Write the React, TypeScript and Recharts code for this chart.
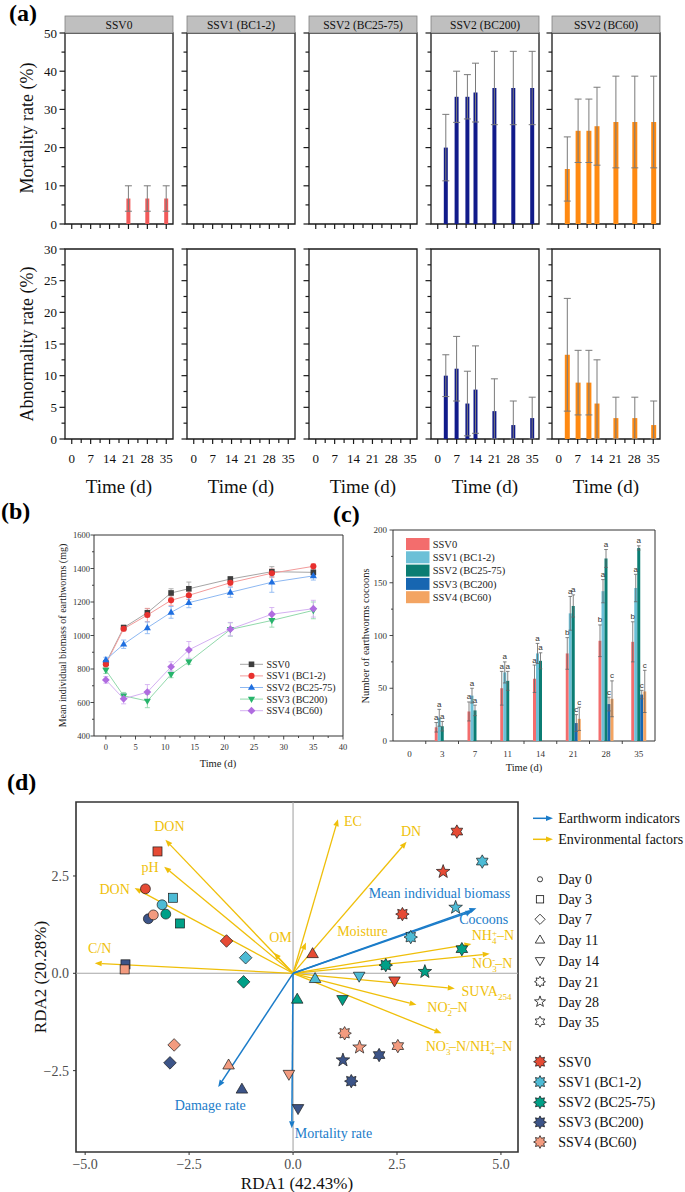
import React from 'react';
import {
  BarChart, Bar, LineChart, Line, ScatterChart, Scatter, XAxis, YAxis,
  ErrorBar, ReferenceArea, ReferenceLine, LabelList,
} from 'recharts';

const SERIF = '"Liberation Serif","Times New Roman",Times,serif';
const SANS = '"Liberation Sans",Arial,sans-serif';

/* ===================== (a) data ===================== */
const A_DAYS = [0, 3, 7, 11, 14, 21, 28, 35];
const A_X_TICKS = [0, 3.5, 7, 10.5, 14, 17.5, 21, 24.5, 28, 31.5, 35];
const A_TITLES = ['SSV0', 'SSV1 (BC1-2)', 'SSV2 (BC25-75)', 'SSV2 (BC200)', 'SSV2 (BC60)'];

const MORT_SSV0 = [0, 0, 0, 0, 0, 6.67, 6.67, 6.67];
const MORT_SSV0_SD = [0, 0, 0, 0, 0, 3.33, 3.33, 3.33];
const MORT_BC12 = [0, 0, 0, 0, 0, 0, 0, 0];
const MORT_BC2575 = [0, 0, 0, 0, 0, 0, 0, 0];
const MORT_BC200 = [0, 20.0, 33.3, 33.3, 34.4, 35.6, 35.6, 35.6];
const MORT_BC200_SD = [0, 8.7, 6.7, 5.8, 7.7, 9.6, 9.6, 9.6];
const MORT_BC60 = [0, 14.4, 24.4, 24.4, 25.6, 26.7, 26.7, 26.7];
const MORT_BC60_SD = [0, 8.4, 8.3, 8.3, 10.2, 12.0, 12.0, 12.0];

const ABN_SSV0 = [0, 0, 0, 0, 0, 0, 0, 0];
const ABN_BC12 = [0, 0, 0, 0, 0, 0, 0, 0];
const ABN_BC2575 = [0, 0, 0, 0, 0, 0, 0, 0];
const ABN_BC200 = [0, 10.0, 11.1, 5.6, 7.8, 4.4, 2.2, 3.3];
const ABN_BC200_SD = [0, 3.3, 5.1, 5.1, 6.9, 5.1, 3.8, 3.3];
const ABN_BC60 = [0, 13.3, 8.9, 8.9, 5.6, 3.3, 3.3, 2.2];
const ABN_BC60_SD = [0, 8.9, 5.1, 5.1, 6.9, 3.3, 3.3, 3.8];
const ZERO_SD = [0, 0, 0, 0, 0, 0, 0, 0];

const MORT_SETS = [MORT_SSV0, MORT_BC12, MORT_BC2575, MORT_BC200, MORT_BC60];
const MORT_SD_SETS = [MORT_SSV0_SD, ZERO_SD, ZERO_SD, MORT_BC200_SD, MORT_BC60_SD];
const ABN_SETS = [ABN_SSV0, ABN_BC12, ABN_BC2575, ABN_BC200, ABN_BC60];
const ABN_SD_SETS = [ZERO_SD, ZERO_SD, ZERO_SD, ABN_BC200_SD, ABN_BC60_SD];

/* ===================== (b) data ===================== */
const B_DAYS = [0, 3, 7, 11, 14, 21, 28, 35];
const B_SSV0 = [835, 1047, 1136, 1254, 1279, 1337, 1381, 1377];
const B_SSV1 = [829, 1040, 1122, 1210, 1240, 1315, 1372, 1413];
const B_SSV2 = [855, 948, 1046, 1138, 1196, 1258, 1318, 1356];
const B_SSV3 = [793, 640, 609, 768, 843, 1036, 1090, 1150];
const B_SSV4 = [735, 622, 662, 813, 914, 1038, 1127, 1160];
const B_SSV0_SD = [15, 15, 25, 25, 40, 15, 30, 20];
const B_SSV1_SD = [20, 15, 40, 30, 25, 20, 25, 15];
const B_SSV2_SD = [15, 25, 35, 35, 30, 30, 60, 25];
const B_SSV3_SD = [20, 20, 40, 20, 15, 40, 40, 50];
const B_SSV4_SD = [20, 30, 45, 30, 50, 40, 40, 50];
const B_NAMES = ['SSV0', 'SSV1 (BC1-2)', 'SSV2 (BC25-75)', 'SSV3 (BC200)', 'SSV4 (BC60)'];
const B_SETS = [B_SSV0, B_SSV1, B_SSV2, B_SSV3, B_SSV4];
const B_SD_SETS = [B_SSV0_SD, B_SSV1_SD, B_SSV2_SD, B_SSV3_SD, B_SSV4_SD];

/* ===================== (c) data ===================== */
const C_DAYS = ['0', '3', '7', '11', '14', '21', '28', '35'];
const C_SSV0 = [0, 13, 28, 50, 59, 83, 95, 94];
const C_SSV1 = [0, 22, 43, 65, 83, 121, 142, 145];
const C_SSV2 = [0, 14, 29, 57, 76, 128, 173, 183];
const C_SSV3 = [0, 0, 0, 0, 0, 17, 35, 44];
const C_SSV4 = [0, 0, 0, 0, 0, 21, 40, 47];
const C_SSV0_SD = [0, 4.5, 9, 16, 13, 15, 15, 19];
const C_SSV1_SD = [0, 8, 7, 10, 9.5, 16, 11, 13];
const C_SSV2_SD = [0, 4.5, 5, 9, 7.6, 10.5, 8.5, 2];
const C_SSV3_SD = [0, 0, 0, 0, 0, 8, 6.5, 4];
const C_SSV4_SD = [0, 0, 0, 0, 0, 11, 17, 20];
const C_SSV0_SIG = ['', 'a', 'a', 'a', 'a', 'b', 'b', 'b'];
const C_SSV1_SIG = ['', 'a', 'a', 'a', 'a', 'a', 'a', 'a'];
const C_SSV2_SIG = ['', 'a', 'a', 'a', 'a', 'a', 'a', 'a'];
const C_SSV3_SIG = ['', '', '', '', '', 'c', 'c', 'c'];
const C_SSV4_SIG = ['', '', '', '', '', 'c', 'c', 'c'];
const C_NAMES = ['SSV0', 'SSV1 (BC1-2)', 'SSV2 (BC25-75)', 'SSV3 (BC200)', 'SSV4 (BC60)'];
const C_SETS = [C_SSV0, C_SSV1, C_SSV2, C_SSV3, C_SSV4];
const C_SD_SETS = [C_SSV0_SD, C_SSV1_SD, C_SSV2_SD, C_SSV3_SD, C_SSV4_SD];
const C_SIG_SETS = [C_SSV0_SIG, C_SSV1_SIG, C_SSV2_SIG, C_SSV3_SIG, C_SSV4_SIG];

/* ===================== (d) data ===================== */
const D_DAY_LABELS = ['Day 0', 'Day 3', 'Day 7', 'Day 11', 'Day 14', 'Day 21', 'Day 28', 'Day 35'];
const D_GROUP_NAMES = ['SSV0', 'SSV1 (BC1-2)', 'SSV2 (BC25-75)', 'SSV3 (BC200)', 'SSV4 (BC60)'];
const D_SSV0_RDA1 = [-3.55, -3.26, -1.60, 0.47, 2.44, 2.63, 3.61, 3.94];
const D_SSV0_RDA2 = [2.17, 3.13, 0.83, 0.50, -0.19, 1.52, 2.61, 3.64];
const D_SSV1_RDA1 = [-3.15, -2.89, -1.14, 0.53, 1.59, 2.83, 3.91, 4.55];
const D_SSV1_RDA2 = [1.76, 1.94, 0.40, -0.14, -0.07, 0.93, 1.69, 2.87];
const D_SSV2_RDA1 = [-3.06, -2.72, -1.19, 0.10, 1.19, 2.23, 3.17, 4.06];
const D_SSV2_RDA2 = [1.52, 1.28, -0.22, -0.67, -0.67, 0.21, 0.04, 0.62];
const D_SSV3_RDA1 = [-3.48, -4.03, -2.96, -1.23, 0.12, 1.40, 1.20, 2.07];
const D_SSV3_RDA2 = [1.40, 0.23, -2.30, -2.98, -3.47, -2.77, -2.23, -2.10];
const D_SSV4_RDA1 = [-3.36, -4.05, -2.86, -1.55, -0.10, 1.24, 1.60, 2.52];
const D_SSV4_RDA2 = [1.50, 0.10, -1.84, -2.36, -2.59, -1.54, -1.90, -1.87];
const D_RDA1_SETS = [D_SSV0_RDA1, D_SSV1_RDA1, D_SSV2_RDA1, D_SSV3_RDA1, D_SSV4_RDA1];
const D_RDA2_SETS = [D_SSV0_RDA2, D_SSV1_RDA2, D_SSV2_RDA2, D_SSV3_RDA2, D_SSV4_RDA2];

const ENV_IDS = ['DON1', 'pH', 'DON2', 'CN', 'OM', 'Moisture', 'EC', 'DN', 'NH4', 'NO3', 'SUVA', 'NO2', 'RATIO'];
const ENV_RDA1 = [-3.07, -3.10, -3.81, -4.77, -0.46, 0.31, 1.08, 2.73, 4.29, 4.73, 3.89, 2.97, 3.57];
const ENV_RDA2 = [3.43, 2.74, 2.19, 0.26, 0.53, 0.79, 3.96, 3.38, 0.75, 0.50, -0.39, -0.81, -1.54];
const WORM_IDS = ['BIOMASS', 'COCOONS', 'DAMAGE', 'MORT'];
const WORM_RDA1 = [4.41, 4.32, -1.80, -0.03];
const WORM_RDA2 = [1.67, 1.60, -2.92, -3.98];

/* ===================== styles / layout ===================== */
const AX = 1; // axis band thickness (must be > 0 for recharts to draw ticks)
const A_COL_LEFT = [65, 187, 309, 431, 552];
const A_PW = 108;
const A_ML = 46, A_MR = 6, A_MT = 12, A_MB = 60;
const A_ROWS = [
  { top: 33, h: 191, yMax: 50, minor: 5, major: 10 },
  { top: 249, h: 190, yMax: 30, minor: 2.5, major: 5 },
];
const A_COLORS = ['#f25a5a', '#f25a5a', '#f25a5a', '#111b8a', '#ff8a12'];
const A_BAR = [4, 4, 4, 4, 5];

const B_LEFT = 94, B_TOP = 535, B_PW = 249, B_PH = 201;
const B_ML = 46, B_MR = 6, B_MT = 8, B_MB = 40;
const B_STYLE = [
  { kind: 'square', mark: '#3d3d3d', line: '#a6a6a6' },
  { kind: 'circle', mark: '#e8302e', line: '#f29b9b' },
  { kind: 'triUp', mark: '#1f6fe0', line: '#8db8f2' },
  { kind: 'triDown', mark: '#27b46b', line: '#91d9ab' },
  { kind: 'diamond', mark: '#b06ce0', line: '#d4b0f2' },
];

const C_LEFT = 393, C_TOP = 530, C_PW = 262, C_PH = 211;
const C_ML = 45, C_MR = 6, C_MT = 8, C_MB = 36;
const C_COLORS = ['#f36d6d', '#6cc0d7', '#0b7d73', '#1766b1', '#f3a462'];

const D_LEFT = 76, D_TOP = 802, D_PW = 442, D_PH = 350;
const D_ML = 50, D_MR = 8, D_MT = 8, D_MB = 40;
const D_XDOM = [-5.22, 5.41];
const D_YDOM = [-4.59, 4.40];
const D_COLORS = ['#E64B35', '#4DBBD5', '#00A087', '#3C5488', '#F39B7F'];
const DAY_KINDS = ['circle', 'square', 'diamond', 'triUp', 'triDown', 'star8', 'star5', 'star6'];
const BLUE = '#1b7cc9';
const YELLOW = '#efbf0a';

/* ===================== symbols ===================== */
function starPts(cx: number, cy: number, n: number, ro: number, ri: number) {
  const pts: string[] = [];
  for (let i = 0; i < 2 * n; i++) {
    const r = i % 2 === 0 ? ro : ri;
    const a = -Math.PI / 2 + (i * Math.PI) / n;
    pts.push(`${(cx + r * Math.cos(a)).toFixed(2)},${(cy + r * Math.sin(a)).toFixed(2)}`);
  }
  return pts.join(' ');
}

function Sym({ kind, cx, cy, s, fill, stroke, sw }: any) {
  const c = { fill, stroke, strokeWidth: sw };
  if (cx == null || cy == null) return null;
  switch (kind) {
    case 'circle':
      return <circle cx={cx} cy={cy} r={s * 0.47} {...c} />;
    case 'square':
      return <rect x={cx - s * 0.43} y={cy - s * 0.43} width={s * 0.86} height={s * 0.86} {...c} />;
    case 'diamond':
      return <polygon points={`${cx},${cy - s * 0.6} ${cx + s * 0.6},${cy} ${cx},${cy + s * 0.6} ${cx - s * 0.6},${cy}`} {...c} />;
    case 'triUp': {
      const w = s * 1.1, h = s * 0.95;
      return <polygon points={`${cx},${cy - h * 0.62} ${cx + w / 2},${cy + h * 0.38} ${cx - w / 2},${cy + h * 0.38}`} {...c} />;
    }
    case 'triDown': {
      const w = s * 1.1, h = s * 0.95;
      return <polygon points={`${cx},${cy + h * 0.62} ${cx + w / 2},${cy - h * 0.38} ${cx - w / 2},${cy - h * 0.38}`} {...c} />;
    }
    case 'star8':
      return <polygon points={starPts(cx, cy, 8, s * 0.64, s * 0.4)} {...c} />;
    case 'star5':
      return <polygon points={starPts(cx, cy, 5, s * 0.68, s * 0.28)} {...c} />;
    case 'star6':
      return <polygon points={starPts(cx, cy, 6, s * 0.64, s * 0.37)} {...c} />;
    default:
      return null;
  }
}

/* ===================== (a) panels ===================== */
const aXTick = (showLabels: boolean) => (p: any) => {
  const { x, y, payload } = p;
  const v = payload.value;
  const major = Math.abs(v / 7 - Math.round(v / 7)) < 1e-6;
  return (
    <g>
      <line x1={x} x2={x} y1={y} y2={y + (major ? 5 : 4)} stroke="#1a1a1a" strokeWidth={1.2} />
      {showLabels && major && (
        <text x={x} y={y + 23.5} textAnchor="middle" fontSize={13} fontFamily={SERIF} fill="#111">{v}</text>
      )}
    </g>
  );
};
const aYTick = (showLabels: boolean, majorStep: number) => (p: any) => {
  const { x, y, payload } = p;
  const v = payload.value;
  const major = Math.abs(v / majorStep - Math.round(v / majorStep)) < 1e-6;
  return (
    <g>
      <line x1={x - (major ? 5.5 : 3.5)} x2={x} y1={y} y2={y} stroke="#1a1a1a" strokeWidth={1.2} />
      {showLabels && major && (
        <text x={x - 8} y={y + 4.5} textAnchor="end" fontSize={13} fontFamily={SERIF} fill="#111">{v}</text>
      )}
    </g>
  );
};

function APanel({ col, row }: { col: number; row: number }) {
  const R = A_ROWS[row];
  const vals = row === 0 ? MORT_SETS[col] : ABN_SETS[col];
  const sds = row === 0 ? MORT_SD_SETS[col] : ABN_SD_SETS[col];
  const data = A_DAYS.map((d, i) => ({
    day: d,
    v: vals[i] > 0 ? vals[i] : null,
    e: vals[i] > 0 && sds[i] > 0 ? [Math.min(sds[i], vals[i]), sds[i]] : null,
  }));
  const yTicks: number[] = [];
  for (let t = 0; t <= R.yMax + 1e-6; t += R.minor) yTicks.push(+t.toFixed(2));
  return (
    <div style={{ position: 'absolute', left: A_COL_LEFT[col] - A_ML, top: R.top - A_MT }}>
      <BarChart
        width={A_PW + A_ML + A_MR}
        height={R.h + A_MT + A_MB}
        data={data}
        margin={{ top: A_MT, right: A_MR, bottom: A_MB - AX, left: A_ML - AX }}
      >
        <XAxis type="number" dataKey="day" domain={[-2.5, 37.5]} ticks={A_X_TICKS} interval={0}
          height={AX} tickSize={0} tickMargin={0} axisLine={false} tickLine={false}
          tick={aXTick(row === 1)} allowDataOverflow />
        <YAxis type="number" domain={[0, R.yMax]} ticks={yTicks} interval={0} width={AX}
          tickSize={0} tickMargin={0} axisLine={false} tickLine={false}
          tick={aYTick(col === 0, R.major)} allowDataOverflow />
        <ReferenceArea y1={0} y2={R.yMax} fill="none" fillOpacity={0} stroke="#1a1a1a" strokeWidth={1.3} />
        <Bar dataKey="v" fill={A_COLORS[col]} barSize={A_BAR[col]} isAnimationActive={false}>
          <ErrorBar dataKey="e" width={3.5} stroke="#7a7a7a" strokeWidth={1} direction="y" />
        </Bar>
      </BarChart>
    </div>
  );
}

/* ===================== (b) ===================== */
const B_XT = [0, 2.5, 5, 7.5, 10, 12.5, 15, 17.5, 20, 22.5, 25, 27.5, 30, 32.5, 35, 37.5, 40];
const B_YT = [400, 500, 600, 700, 800, 900, 1000, 1100, 1200, 1300, 1400, 1500, 1600];
const bXTick = (p: any) => {
  const { x, y, payload } = p;
  const v = payload.value;
  const major = v % 5 === 0;
  return (
    <g>
      <line x1={x} x2={x} y1={y} y2={y + (major ? 3.5 : 2)} stroke="#333" strokeWidth={0.9} />
      {major && <text x={x} y={y + 13.5} textAnchor="middle" fontSize={8.5} fontFamily={SERIF} fill="#333">{v}</text>}
    </g>
  );
};
const bYTick = (p: any) => {
  const { x, y, payload } = p;
  const v = payload.value;
  const major = v % 200 === 0;
  return (
    <g>
      <line x1={x - (major ? 3.5 : 2)} x2={x} y1={y} y2={y} stroke="#333" strokeWidth={0.9} />
      {major && <text x={x - 4} y={y + 3} textAnchor="end" fontSize={8.5} fontFamily={SERIF} fill="#333">{v}</text>}
    </g>
  );
};

function PanelB() {
  const data = B_DAYS.map((d, i) => {
    const row: any = { t: d };
    B_SETS.forEach((s, k) => { row[`s${k}`] = s[i]; row[`e${k}`] = B_SD_SETS[k][i]; });
    return row;
  });
  return (
    <div style={{ position: 'absolute', left: B_LEFT - B_ML, top: B_TOP - B_MT }}>
      <LineChart width={B_PW + B_ML + B_MR} height={B_PH + B_MT + B_MB} data={data}
        margin={{ top: B_MT, right: B_MR, bottom: B_MB - AX, left: B_ML - AX }}>
        <XAxis type="number" dataKey="t" domain={[-2, 40]} ticks={B_XT} interval={0}
          height={AX} tickSize={0} tickMargin={0} axisLine={false} tickLine={false} tick={bXTick} allowDataOverflow />
        <YAxis type="number" domain={[400, 1600]} ticks={B_YT} interval={0} width={AX}
          tickSize={0} tickMargin={0} axisLine={false} tickLine={false} tick={bYTick} allowDataOverflow />
        <ReferenceArea y1={400} y2={1600} fill="none" fillOpacity={0} stroke="#333" strokeWidth={1} />
        {B_SETS.map((_, k) => (
          <Line key={k} dataKey={`s${k}`} stroke={B_STYLE[k].line} strokeWidth={1} isAnimationActive={false}
            activeDot={false}
            dot={(p: any) => (
              <Sym key={`b${k}-${p.index}`} kind={B_STYLE[k].kind} cx={p.cx} cy={p.cy} s={6.5}
                fill={B_STYLE[k].mark} stroke="none" sw={0} />
            )}>
            <ErrorBar dataKey={`e${k}`} width={2.5} stroke={B_STYLE[k].line} strokeWidth={0.9} direction="y" />
          </Line>
        ))}
      </LineChart>
    </div>
  );
}

/* ===================== (c) ===================== */
const C_YT = [0, 25, 50, 75, 100, 125, 150, 175, 200];
const cXTick = (p: any) => {
  const { x, y, payload } = p;
  const half = C_PW / C_DAYS.length / 2;
  return (
    <g>
      {payload.value !== '35' && <line x1={x + half} x2={x + half} y1={y} y2={y + 3} stroke="#333" strokeWidth={0.9} />}
      <text x={x} y={y + 15.5} textAnchor="middle" fontSize={9} fontFamily={SERIF} fill="#333">{payload.value}</text>
    </g>
  );
};
const cYTick = (p: any) => {
  const { x, y, payload } = p;
  const v = payload.value;
  const major = v % 50 === 0;
  return (
    <g>
      <line x1={x - (major ? 3.5 : 2)} x2={x} y1={y} y2={y} stroke="#333" strokeWidth={0.9} />
      {major && <text x={x - 6} y={y + 3.2} textAnchor="end" fontSize={9} fontFamily={SERIF} fill="#333">{v}</text>}
    </g>
  );
};

function cLetter(p: any, k: number) {
  const raw = Array.isArray(p.value) ? p.value[1] : p.value;
  if (raw == null) return null;
  const idx = C_SETS[k].indexOf(raw);
  if (idx < 0) return null;
  const sig = C_SIG_SETS[k][idx];
  if (!sig) return null;
  const vb = p.viewBox && p.viewBox.width != null ? p.viewBox : p;
  if (vb.x == null) return null;
  const pxPerUnit = C_PH / 200;
  const cx = vb.x + vb.width / 2;
  const top = Math.min(vb.y, vb.y + vb.height);
  const yCap = top - (C_SD_SETS[k][idx] || 0) * pxPerUnit;
  return (
    <text key={`l${k}-${idx}`} x={cx} y={yCap - 2.5} textAnchor="middle" fontSize={8} fontFamily={SANS} fill="#333">{sig}</text>
  );
}

function PanelC() {
  const data = C_DAYS.map((d, i) => {
    const row: any = { day: d };
    C_SETS.forEach((s, k) => {
      row[`v${k}`] = s[i] > 0 ? s[i] : null;
      row[`e${k}`] = s[i] > 0 && C_SD_SETS[k][i] > 0 ? C_SD_SETS[k][i] : null;
    });
    return row;
  });
  return (
    <div style={{ position: 'absolute', left: C_LEFT - C_ML, top: C_TOP - C_MT }}>
      <BarChart width={C_PW + C_ML + C_MR} height={C_PH + C_MT + C_MB} data={data}
        margin={{ top: C_MT, right: C_MR, bottom: C_MB - AX, left: C_ML - AX }} barSize={3} barGap={0}>
        <XAxis dataKey="day" type="category" interval={0} height={AX} tickSize={0} tickMargin={0}
          axisLine={false} tickLine={false} tick={cXTick} />
        <YAxis type="number" domain={[0, 200]} ticks={C_YT} interval={0} width={AX}
          tickSize={0} tickMargin={0} axisLine={false} tickLine={false} tick={cYTick} allowDataOverflow />
        <ReferenceArea y1={0} y2={200} fill="none" fillOpacity={0} stroke="#333" strokeWidth={1} />
        {C_SETS.map((_, k) => (
          <Bar key={k} dataKey={`v${k}`} fill={C_COLORS[k]} isAnimationActive={false}>
            <ErrorBar dataKey={`e${k}`} width={1.8} stroke="#666" strokeWidth={0.8} direction="y" />
            <LabelList dataKey={`v${k}`} content={(p: any) => cLetter(p, k)} />
          </Bar>
        ))}
      </BarChart>
    </div>
  );
}

/* ===================== (d) ===================== */
const SUBF = 9;
const LABELS: Record<string, { dx: number; dy: number; node: React.ReactNode }> = {
  DON1: { dx: 4, dy: -14, node: 'DON' },
  pH: { dx: -14, dy: 0, node: 'pH' },
  DON2: { dx: -20, dy: 1, node: 'DON' },
  CN: { dx: 5, dy: -15, node: 'C/N' },
  OM: { dx: 6.5, dy: -16, node: 'OM' },
  Moisture: { dx: 56.5, dy: -12, node: 'Moisture' },
  EC: { dx: 15, dy: 2, node: 'EC' },
  DN: { dx: 4.5, dy: -10.5, node: 'DN' },
  NH4: {
    dx: 21.5, dy: -9.5, node: (
      <>NH<tspan fontSize={SUBF} dy={4}>4</tspan><tspan fontSize={SUBF} dx={-4.5} dy={-8}>+</tspan><tspan dy={4}>–N</tspan></>
    ),
  },
  NO3: {
    dx: 2.5, dy: 9.5, node: (
      <>NO<tspan fontSize={SUBF} dy={4}>3</tspan><tspan fontSize={SUBF} dx={-4.5} dy={-9}>-</tspan><tspan dy={5}>–N</tspan></>
    ),
  },
  SUVA: { dx: 31.7, dy: 2.7, node: (<>SUVA<tspan fontSize={SUBF} dy={4}>254</tspan></>) },
  NO2: {
    dx: 31, dy: 2.5, node: (
      <>NO<tspan fontSize={SUBF} dy={4}>2</tspan><tspan fontSize={SUBF} dx={-4.5} dy={-9}>-</tspan><tspan dy={5}>–N</tspan></>
    ),
  },
  RATIO: {
    dx: 27.5, dy: 13, node: (
      <>NO<tspan fontSize={SUBF} dy={4}>3</tspan><tspan fontSize={SUBF} dx={-4.5} dy={-9}>-</tspan><tspan dy={5}>–N/NH</tspan><tspan fontSize={SUBF} dy={4}>4</tspan><tspan fontSize={SUBF} dx={-4.5} dy={-9}>+</tspan><tspan dy={5}>–N</tspan></>
    ),
  },
  BIOMASS: { dx: -37, dy: -15, node: 'Mean individual biomass' },
  COCOONS: { dx: 11, dy: 7.5, node: 'Cocoons' },
  DAMAGE: { dx: -8, dy: 18, node: 'Damage rate' },
  MORT: { dx: 41.7, dy: 4.4, node: 'Mortality rate' },
};

function arrowHead(x1: number, y1: number, x2: number, y2: number, L: number, W: number) {
  const a = Math.atan2(y2 - y1, x2 - x1);
  const bx = x2 - L * Math.cos(a), by = y2 - L * Math.sin(a);
  const pts = `${x2},${y2} ${bx - W * Math.sin(a)},${by + W * Math.cos(a)} ${bx + W * Math.sin(a)},${by - W * Math.cos(a)}`;
  return { bx, by, pts };
}

const arrowShape = (id: string, color: string, sw: number) => (p: any) => {
  const { x1, y1, x2, y2 } = p;
  if ([x1, y1, x2, y2].some((v) => v == null || Number.isNaN(v))) return <g />;
  const h = arrowHead(x1, y1, x2, y2, 7, 2.8);
  const lab = LABELS[id];
  return (
    <g>
      <line x1={x1} y1={y1} x2={h.bx} y2={h.by} stroke={color} strokeWidth={sw} />
      <polygon points={h.pts} fill={color} />
      {lab && (
        <text x={x2 + lab.dx} y={y2 + lab.dy + 5} textAnchor="middle" fontSize={14} fontFamily={SERIF} fill={color}>
          {lab.node}
        </text>
      )}
    </g>
  );
};

const fmtD = (v: number) => (v < 0 ? '−' : '') + Math.abs(v).toFixed(1);
const dXTick = (p: any) => {
  const { x, y, payload } = p;
  return (
    <g>
      <line x1={x} x2={x} y1={y} y2={y + 3} stroke="#333" strokeWidth={1} />
      <text x={x} y={y + 16.5} textAnchor="middle" fontSize={14} fontFamily={SERIF} fill="#4d4d4d">{fmtD(payload.value)}</text>
    </g>
  );
};
const dYTick = (p: any) => {
  const { x, y, payload } = p;
  return (
    <g>
      <line x1={x - 3} x2={x} y1={y} y2={y} stroke="#333" strokeWidth={1} />
      <text x={x - 7} y={y + 5} textAnchor="end" fontSize={14} fontFamily={SERIF} fill="#4d4d4d">{fmtD(payload.value)}</text>
    </g>
  );
};

function PanelD() {
  const groups = D_GROUP_NAMES.map((name, g) => ({
    name,
    data: D_RDA1_SETS[g].map((x, i) => ({ x, y: D_RDA2_SETS[g][i], d: i })),
  }));
  return (
    <div style={{ position: 'absolute', left: D_LEFT - D_ML, top: D_TOP - D_MT }}>
      <ScatterChart width={D_PW + D_ML + D_MR} height={D_PH + D_MT + D_MB}
        margin={{ top: D_MT, right: D_MR, bottom: D_MB - AX, left: D_ML - AX }}>
        <XAxis type="number" dataKey="x" domain={D_XDOM} ticks={[-5, -2.5, 0, 2.5, 5]} interval={0}
          height={AX} tickSize={0} tickMargin={0} axisLine={false} tickLine={false} tick={dXTick} allowDataOverflow />
        <YAxis type="number" dataKey="y" domain={D_YDOM} ticks={[-2.5, 0, 2.5]} interval={0} width={AX}
          tickSize={0} tickMargin={0} axisLine={false} tickLine={false} tick={dYTick} allowDataOverflow />
        <ReferenceLine x={0} stroke="#a6a6a6" strokeWidth={1.1} />
        <ReferenceLine y={0} stroke="#a6a6a6" strokeWidth={1.1} />
        {ENV_IDS.map((id, i) => (
          <ReferenceLine key={id} segment={[{ x: 0, y: 0 }, { x: ENV_RDA1[i], y: ENV_RDA2[i] }]}
            stroke={YELLOW} shape={arrowShape(id, YELLOW, 1.3)} />
        ))}
        {WORM_IDS.map((id, i) => (
          <ReferenceLine key={id} segment={[{ x: 0, y: 0 }, { x: WORM_RDA1[i], y: WORM_RDA2[i] }]}
            stroke={BLUE} shape={arrowShape(id, BLUE, 1.5)} />
        ))}
        {groups.map((g, k) => (
          <Scatter key={g.name} name={g.name} data={g.data} isAnimationActive={false}
            shape={(p: any) => (
              <Sym kind={DAY_KINDS[p.payload.d]} cx={p.cx} cy={p.cy} s={10.5}
                fill={D_COLORS[k]} stroke="#1a1a1a" sw={0.7} />
            )} />
        ))}
        <ReferenceArea y1={D_YDOM[0]} y2={D_YDOM[1]} fill="none" fillOpacity={0} stroke="#333" strokeWidth={1.6} />
      </ScatterChart>
    </div>
  );
}

/* ===================== overlay texts & legends ===================== */
function Overlay() {
  const legB = [664.3, 675.9, 687.5, 699.1, 710.7];
  const legC = [544, 557.3, 570.6, 583.9, 597.2];
  const legDays = [879.3, 899.3, 919.3, 940, 960.7, 981.7, 1001.7, 1021.7];
  const legGroups = [1061.7, 1082, 1102.3, 1122.3, 1142];
  const blueH = arrowHead(533, 818.3, 553, 818.3, 7, 2.8);
  const yelH = arrowHead(533, 839.3, 553, 839.3, 7, 2.8);
  return (
    <svg width={685} height={1192} style={{ position: 'absolute', left: 0, top: 0, pointerEvents: 'none' }}
      fontFamily={SERIF}>
      {/* panel letters */}
      <text x={9} y={21} fontSize={24} fontWeight="bold">(a)</text>
      <text x={1} y={519} fontSize={24} fontWeight="bold">(b)</text>
      <text x={333} y={522} fontSize={24} fontWeight="bold">(c)</text>
      <text x={7} y={790} fontSize={24} fontWeight="bold">(d)</text>

      {/* (a) strips and titles */}
      {A_TITLES.map((t, k) => (
        <g key={t}>
          <rect x={A_COL_LEFT[k]} y={16} width={A_PW} height={17} fill="#bfbfbf" stroke="#808080" strokeWidth={0.8} />
          <text x={A_COL_LEFT[k] + A_PW / 2} y={28.5} textAnchor="middle" fontSize={11.5} fill="#111">{t}</text>
          <text x={A_COL_LEFT[k] + A_PW / 2} y={493} textAnchor="middle" fontSize={19} fill="#111">Time (d)</text>
        </g>
      ))}
      <text transform="translate(33,128) rotate(-90)" textAnchor="middle" fontSize={18} fill="#111">Mortality rate (%)</text>
      <text transform="translate(33,344) rotate(-90)" textAnchor="middle" fontSize={18} fill="#111">Abnormality rate (%)</text>

      {/* (b) */}
      <text transform="translate(65.5,635.5) rotate(-90)" textAnchor="middle" fontSize={10} fill="#222">Mean individual biomass of earthworms (mg)</text>
      <text x={218} y={766.5} textAnchor="middle" fontSize={10.5} fill="#222">Time (d)</text>
      {B_NAMES.map((n, k) => (
        <g key={n}>
          <line x1={240} x2={263} y1={legB[k]} y2={legB[k]} stroke={B_STYLE[k].line} strokeWidth={1} />
          <Sym kind={B_STYLE[k].kind} cx={251.5} cy={legB[k]} s={6.5} fill={B_STYLE[k].mark} stroke="none" sw={0} />
          <text x={266.5} y={legB[k] + 3.5} fontSize={10} fill="#222">{n}</text>
        </g>
      ))}

      {/* (c) */}
      <text transform="translate(369,636) rotate(-90)" textAnchor="middle" fontSize={10.5} fill="#222">Number of earthworms cocoons</text>
      <text x={524} y={771} textAnchor="middle" fontSize={10.5} fill="#222">Time (d)</text>
      {C_NAMES.map((n, k) => (
        <g key={n}>
          <rect x={406} y={legC[k] - 6} width={23.5} height={12} fill={C_COLORS[k]} />
          <text x={432.7} y={legC[k] + 3.7} fontSize={10.5} fill="#222">{n}</text>
        </g>
      ))}

      {/* (d) axis titles */}
      <text x={297} y={1189} textAnchor="middle" fontSize={17} fill="#111">RDA1 (42.43%)</text>
      <text transform="translate(46,977) rotate(-90)" textAnchor="middle" fontSize={17} fill="#111">RDA2 (20.28%)</text>

      {/* (d) legend */}
      <line x1={533} y1={818.3} x2={blueH.bx} y2={818.3} stroke={BLUE} strokeWidth={1.5} />
      <polygon points={blueH.pts} fill={BLUE} />
      <text x={558.3} y={823} fontSize={14} fill="#111">Earthworm indicators</text>
      <line x1={533} y1={839.3} x2={yelH.bx} y2={839.3} stroke={YELLOW} strokeWidth={1.5} />
      <polygon points={yelH.pts} fill={YELLOW} />
      <text x={558.3} y={844} fontSize={14} fill="#111">Environmental factors</text>
      {D_DAY_LABELS.map((n, i) => (
        <g key={n}>
          <Sym kind={DAY_KINDS[i]} cx={540} cy={legDays[i]} s={DAY_KINDS[i] === 'circle' ? 5.5 : 8.5}
            fill="#fff" stroke="#111" sw={0.8} />
          <text x={558.3} y={legDays[i] + 5} fontSize={14} fill="#111">{n}</text>
        </g>
      ))}
      {D_GROUP_NAMES.map((n, k) => (
        <g key={n}>
          <Sym kind="star8" cx={540} cy={legGroups[k]} s={10} fill={D_COLORS[k]} stroke="#111" sw={0.7} />
          <text x={558.3} y={legGroups[k] + 5} fontSize={14} fill="#111">{n}</text>
        </g>
      ))}
    </svg>
  );
}

export default function App() {
  return (
    <div style={{ position: 'absolute', left: 0, top: 0, width: 685, height: 1192, background: '#fff', overflow: 'hidden', fontFamily: SERIF }}>
      {A_ROWS.map((_, r) => A_COL_LEFT.map((__, c) => <APanel key={`a${r}-${c}`} row={r} col={c} />))}
      <PanelB />
      <PanelC />
      <PanelD />
      <Overlay />
    </div>
  );
}
